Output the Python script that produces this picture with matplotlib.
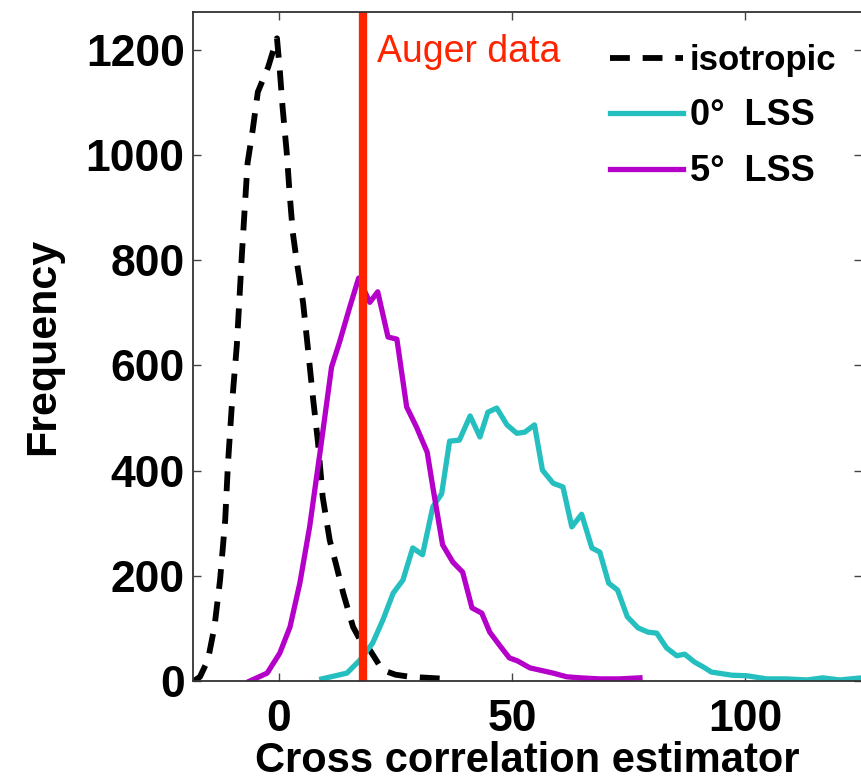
import matplotlib
matplotlib.use("Agg")
import matplotlib.pyplot as plt

iso_x = [-18.2, -16.9, -15.2, -13.8, -12.6, -11.5, -10.9, -10.1, -9.0, -7.9, -7.3, -6.7,
         -5.6, -4.5, -2.3, -0.4, 0.2, 0.8, 1.7, 2.3, 3.0, 3.8, 5.2, 6.2, 7.3, 8.4, 9.4,
         10.9, 12.4, 13.8, 15.9, 17.8, 19.5, 22.2, 25.0, 28.1, 36.0]
iso_y = [0, 8, 40, 103, 192, 306, 414, 521, 639, 814, 901, 985,
         1048, 1120, 1167, 1222, 1162, 1091, 1004, 928, 852, 800, 719, 635, 540, 453, 350,
         268, 217, 167, 103, 72, 59, 21, 12, 8, 4]

lss5_x = [-6.2, -2.5, 0.2, 2.4, 4.5, 6.6, 8.8, 11.3, 13.0, 15.2, 17.1, 19.5, 21.2, 23.4,
          25.3, 27.4, 29.5, 31.8, 33.0, 35.1, 37.3, 39.4, 41.4, 43.5, 45.2, 47.3, 49.4,
          51.2, 53.8, 58.8, 61.7, 64.6, 68.8, 73.0, 77.4]
lss5_y = [0, 15, 53, 103, 186, 293, 433, 597, 644, 711, 766, 720, 740, 654,
          650, 521, 483, 435, 369, 259, 226, 207, 139, 129, 93, 68, 44,
          38, 25, 15, 8, 6, 4, 4, 6]

lss0_x = [9.2, 14.6, 17.4, 20.1, 22.3, 24.5, 26.6, 28.7, 30.8, 33.0, 34.9, 36.6, 38.7,
          41.0, 43.1, 44.8, 46.7, 48.9, 51.0, 52.7, 54.8, 56.5, 58.8, 60.9, 62.8, 64.9,
          67.1, 68.8, 70.7, 72.6, 74.7, 77.0, 79.1, 81.0, 83.1, 85.3, 87.0, 89.1, 91.3,
          92.7, 97.1, 100.3, 104.6, 108.8, 113.2, 116.6, 120.2, 124.9]
lss0_y = [4, 15, 40, 72, 116, 167, 192, 253, 240, 331, 356, 456, 458,
          504, 464, 511, 519, 487, 471, 473, 487, 401, 376, 369, 293, 317,
          253, 245, 186, 173, 122, 101, 93, 91, 63, 48, 51, 36, 25,
          17, 11, 10, 4, 4, 2, 6, 2, 6]

auger_x = 18.0

plt.rcParams['font.family'] = ['Liberation Sans', 'DejaVu Sans']

fig = plt.figure(figsize=(8.62, 7.83), dpi=100)
ax = fig.add_axes([193 / 862, 102 / 783, 669 / 862, 669 / 783])

ax.plot(iso_x, iso_y, color='black', lw=4.2, ls=(0, (3.4, 2.2)), label='isotropic')
ax.plot(lss0_x, lss0_y, color='#26bfbf', lw=3.8, label='0\u00b0  LSS')
ax.plot(lss5_x, lss5_y, color='#b400c8', lw=3.8, label='5\u00b0  LSS')
ax.axvline(auger_x, color='#ff2400', lw=6)
ax.text(21.0, 1196, 'Auger data', color='#ff2400', fontsize=27, va='center')

ax.set_xlim(-18.4, 125)
ax.set_ylim(0, 1272)
ax.set_xticks([0, 50, 100])
ax.set_yticks([0, 200, 400, 600, 800, 1000, 1200])
ax.tick_params(direction='in', length=6, width=1, top=True, right=True,
               labelsize=32, color='#444444')
ax.tick_params(axis='x', pad=13)
ax.tick_params(axis='y', pad=6)
for lab in ax.get_xticklabels() + ax.get_yticklabels():
    lab.set_fontweight('bold')
for sp in ax.spines.values():
    sp.set_linewidth(1.3)
    sp.set_color('#333333')

ax.set_xlabel('Cross correlation estimator', fontsize=30, fontweight='bold', labelpad=1)
ax.set_ylabel('Frequency', fontsize=31, fontweight='bold', labelpad=16)

leg = ax.legend(loc='upper left', bbox_to_anchor=(610 / 862, 1 - 44 / 783),
                bbox_transform=fig.transFigure, frameon=False, borderpad=0,
                borderaxespad=0, handlelength=2.1, handletextpad=0.2,
                labelspacing=0.6, prop={'weight': 'bold', 'size': 25})
for t in leg.get_texts()[1:]:
    t.set_fontsize(26)

fig.savefig('out.png', dpi=100)
